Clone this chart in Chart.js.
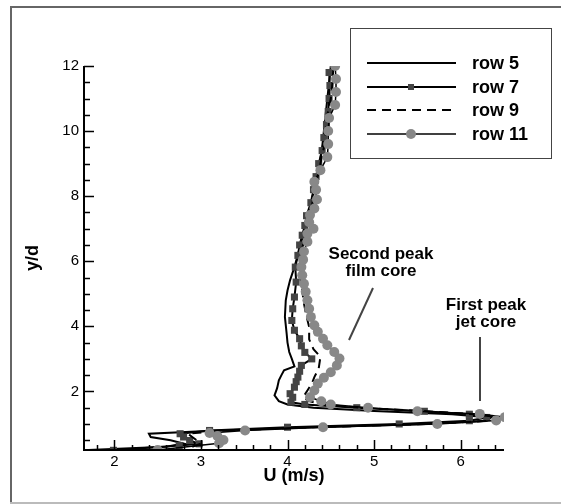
<!DOCTYPE html>
<html>
<head>
<meta charset="utf-8">
<script src="https://cdn.jsdelivr.net/npm/chart.js@4"></script>
<style>
  html, body { margin: 0; padding: 0; background: #fff; }
  #wrap { width: 561px; height: 504px; }
</style>
</head>
<body>
<div id="wrap"><canvas id="profileChart" width="561" height="504"></canvas></div>
<script>
// profiles U (m/s) against y/d
const row5Y = [0.2, 0.3, 0.4, 0.5, 0.6, 0.7, 0.8, 0.9, 1.0, 1.1, 1.2, 1.3, 1.4, 1.5, 1.6, 1.7, 1.88, 2.1, 2.34, 2.5, 2.65, 2.77, 3.0, 3.21, 3.5, 3.78, 4.29, 4.8, 5.1, 5.42, 5.82, 6.2, 6.6, 7.0, 7.5, 8.0, 8.5, 9.0, 9.5, 10.0, 10.5, 11.0, 11.5, 12.0];
const row5U = [1.7, 2.6, 2.8, 2.65, 2.42, 2.4, 3.2, 4.3, 5.6, 6.3, 6.35, 5.9, 5.0, 4.3, 4.0, 3.9, 3.85, 3.88, 3.9, 3.93, 3.96, 4.08, 4.05, 4.02, 4.0, 3.99, 3.97, 3.98, 4.0, 4.03, 4.08, 4.12, 4.16, 4.2, 4.25, 4.29, 4.33, 4.37, 4.4, 4.42, 4.44, 4.46, 4.48, 4.5];

const row7Y = [0.19, 0.34, 0.39, 0.49, 0.6, 0.7, 0.8, 0.9, 1.0, 1.1, 1.2, 1.3, 1.39, 1.5, 1.6, 1.67, 1.82, 1.93, 2.13, 2.3, 2.44, 2.62, 2.8, 3.0, 3.2, 3.4, 3.62, 3.88, 4.18, 4.54, 4.9, 5.36, 5.82, 6.18, 6.5, 6.8, 7.1, 7.4, 7.8, 8.2, 8.6, 9.0, 9.4, 9.8, 10.2, 10.6, 11.0, 11.4, 11.8];
const row7U = [1.99, 2.75, 2.98, 2.87, 2.8, 2.76, 3.1, 4.0, 5.29, 6.1, 6.3, 6.1, 5.58, 4.8, 4.2, 4.04, 4.06, 4.03, 4.08, 4.1, 4.12, 4.14, 4.16, 4.28, 4.2, 4.16, 4.14, 4.08, 4.05, 4.06, 4.08, 4.1, 4.09, 4.12, 4.14, 4.17, 4.2, 4.22, 4.27, 4.3, 4.33, 4.36, 4.4, 4.42, 4.45, 4.47, 4.48, 4.49, 4.48];

const row9Y = [0.3, 0.4, 0.5, 0.6, 0.7, 0.8, 0.9, 1.0, 1.1, 1.2, 1.3, 1.4, 1.5, 1.6, 1.7, 1.82, 2.03, 2.24, 2.44, 2.7, 3.06, 3.3, 3.6, 3.98, 4.3, 4.7, 5.1, 5.5, 5.9, 6.3, 6.7, 7.1, 7.5, 8.0, 8.5, 9.0, 9.5, 10.0, 10.5, 11.0, 11.5, 12.0];
const row9U = [2.9, 3.0, 2.95, 2.9, 2.85, 3.3, 4.3, 5.6, 6.35, 6.45, 6.15, 5.55, 4.85, 4.4, 4.25, 4.18, 4.23, 4.28, 4.31, 4.36, 4.38, 4.3, 4.25, 4.25, 4.22, 4.19, 4.17, 4.15, 4.14, 4.16, 4.2, 4.23, 4.27, 4.3, 4.34, 4.38, 4.42, 4.44, 4.46, 4.5, 4.52, 4.53];

const row11Y = [0.2, 0.41, 0.51, 0.63, 0.72, 0.8, 0.9, 1.0, 1.11, 1.21, 1.31, 1.39, 1.5, 1.6, 1.7, 1.82, 2.03, 2.24, 2.42, 2.59, 2.8, 3.01, 3.21, 3.42, 3.62, 3.83, 4.03, 4.29, 4.54, 4.8, 5.06, 5.31, 5.57, 5.82, 6.05, 6.3, 6.6, 6.85, 7.0, 7.2, 7.42, 7.62, 7.9, 8.2, 8.44, 8.8, 9.2, 9.6, 10.0, 10.4, 10.8, 11.2, 11.6, 12.0];
const row11U = [2.5, 3.21, 3.26, 3.19, 3.1, 3.51, 4.41, 5.73, 6.41, 6.51, 6.22, 5.5, 4.93, 4.5, 4.39, 4.26, 4.31, 4.35, 4.42, 4.5, 4.57, 4.6, 4.54, 4.46, 4.41, 4.35, 4.31, 4.27, 4.25, 4.23, 4.21, 4.19, 4.17, 4.16, 4.18, 4.19, 4.23, 4.23, 4.3, 4.25, 4.26, 4.31, 4.34, 4.33, 4.31, 4.38, 4.46, 4.47, 4.47, 4.48, 4.55, 4.56, 4.56, 4.55];

const seriesNames = ["row 5", "row 7", "row 9", "row 11"];

const xMajor = [2, 3, 4, 5, 6];
const yMajor = [2, 4, 6, 8, 10, 12];

const notes = [
  { lines: ["Second peak", "film core"], at: [381, 254], from: [373, 288], to: [349, 340] },
  { lines: ["First peak", "jet core"], at: [486, 305], from: [480, 337], to: [480, 401] }
];

function pts(us, ys) {
  return us.map((u, i) => ({ x: u, y: ys[i] }));
}

const FONT = "'Liberation Sans', Arial, sans-serif";

// inward ticks, axis lines, legend box, annotations and frame
const decor = {
  id: "decor",
  beforeDraw(chart) {
    const c = chart.ctx;
    c.save();
    c.fillStyle = "#fff";
    c.fillRect(0, 0, chart.width, chart.height);
    c.lineWidth = 2;
    c.strokeStyle = "#666";
    c.beginPath();
    c.moveTo(11, 503); c.lineTo(11, 7); c.lineTo(561, 7);
    c.stroke();
    c.strokeStyle = "#bbb";
    c.beginPath();
    c.moveTo(10, 503); c.lineTo(561, 503);
    c.stroke();
    c.restore();
  },
  afterDraw(chart) {
    const c = chart.ctx;
    const xs = chart.scales.x, ys = chart.scales.y;
    const a = chart.chartArea;
    c.save();
    c.strokeStyle = "#000";
    c.lineWidth = 2;
    c.beginPath();
    c.moveTo(a.left, a.top); c.lineTo(a.left, a.bottom); c.lineTo(a.right, a.bottom);
    c.stroke();

    c.lineWidth = 1.5;
    c.beginPath();
    for (let v = 1.8; v <= 6.5001; v += 0.2) {
      const px = Math.round(xs.getPixelForValue(v)) + 0.5;
      const major = xMajor.some(m => Math.abs(m - v) < 1e-6);
      c.moveTo(px, a.bottom); c.lineTo(px, a.bottom - (major ? 10 : 5));
    }
    for (let v = 0.5; v <= 12.0001; v += 0.5) {
      const py = Math.round(ys.getPixelForValue(v)) + 0.5;
      const major = yMajor.some(m => Math.abs(m - v) < 1e-6);
      c.moveTo(a.left, py); c.lineTo(a.left + (major ? 10 : 6), py);
    }
    c.stroke();

    // legend
    c.lineWidth = 1;
    c.strokeStyle = "#444";
    c.strokeRect(350.5, 28.5, 201, 130);
    c.font = "bold 18px " + FONT;
    c.textBaseline = "middle";
    c.textAlign = "left";
    const rowsY = [63, 87, 110, 134];
    chart.data.datasets.forEach((ds, i) => {
      const y = rowsY[i];
      c.save();
      c.strokeStyle = "#000";
      c.lineWidth = ds.borderWidth;
      c.setLineDash(ds.borderDash || []);
      c.beginPath();
      c.moveTo(367, y); c.lineTo(456, y);
      c.stroke();
      c.restore();
      if (ds.pointRadius > 0) {
        c.fillStyle = ds.pointBackgroundColor;
        if (ds.pointStyle === "rect") {
          c.fillRect(408, y - 3, 6, 6);
        } else {
          c.beginPath();
          c.arc(411, y, 5, 0, Math.PI * 2);
          c.fill();
        }
      }
      c.fillStyle = "#000";
      c.fillText(ds.label, 472, y + 1);
    });

    // annotations
    c.font = "bold 17px " + FONT;
    c.textAlign = "center";
    c.lineWidth = 2;
    notes.forEach(n => {
      n.lines.forEach((t, k) => c.fillText(t, n.at[0], n.at[1] + k * 17));
      c.beginPath();
      c.moveTo(n.from[0], n.from[1]); c.lineTo(n.to[0], n.to[1]);
      c.stroke();
    });
    c.restore();
  }
};

new Chart(document.getElementById("profileChart"), {
  type: "scatter",
  data: {
    datasets: [
      {
        label: seriesNames[0], data: pts(row5U, row5Y), showLine: true,
        borderColor: "#000", borderWidth: 2, pointRadius: 0, order: 4
      },
      {
        label: seriesNames[1], data: pts(row7U, row7Y), showLine: true,
        borderColor: "#000", borderWidth: 2, pointRadius: 5, pointStyle: "rect",
        pointBackgroundColor: "#444", pointBorderColor: "#444", pointBorderWidth: 0, order: 3
      },
      {
        label: seriesNames[2], data: pts(row9U, row9Y), showLine: true,
        borderColor: "#000", borderWidth: 2, borderDash: [9, 6], pointRadius: 0, order: 2
      },
      {
        label: seriesNames[3], data: pts(row11U, row11Y), showLine: true,
        borderColor: "#000", borderWidth: 1.5, pointRadius: 5, pointStyle: "circle",
        pointBackgroundColor: "#888", pointBorderColor: "#888", pointBorderWidth: 0, order: 1
      }
    ]
  },
  options: {
    responsive: false,
    animation: false,
    layout: { padding: { left: 0, top: 66, right: 57, bottom: 0 } },
    plugins: {
      legend: { display: false },
      tooltip: { enabled: false }
    },
    scales: {
      x: {
        type: "linear", min: 1.65, max: 6.5,
        grid: { display: false, drawTicks: false },
        border: { display: false },
        afterBuildTicks: s => { s.ticks = xMajor.map(v => ({ value: v })); },
        afterFit: s => { s.height = 54; },
        ticks: { color: "#000", font: { family: FONT, size: 15 }, padding: 3, maxRotation: 0 },
        title: { display: true, text: "U (m/s)", color: "#000", font: { family: FONT, size: 18, weight: "bold" }, padding: { top: 0, bottom: 17 } }
      },
      y: {
        type: "linear", min: 0.2, max: 12,
        grid: { display: false, drawTicks: false },
        border: { display: false },
        afterBuildTicks: s => { s.ticks = yMajor.map(v => ({ value: v })); },
        afterFit: s => { s.width = 84; },
        ticks: { color: "#000", font: { family: FONT, size: 15 }, padding: 5 },
        title: { display: true, text: "y/d", color: "#000", font: { family: FONT, size: 18, weight: "bold" }, padding: { top: 22, bottom: 0 } }
      }
    }
  },
  plugins: [decor]
});
</script>
</body>
</html>
